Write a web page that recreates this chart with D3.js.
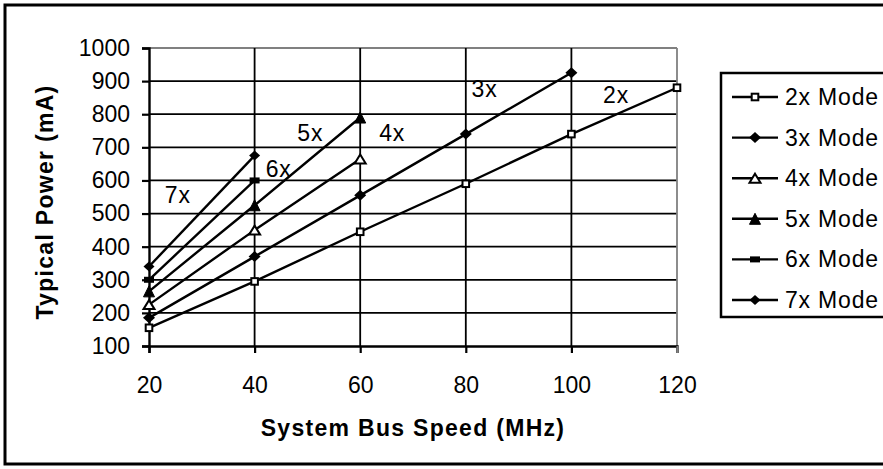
<!DOCTYPE html>
<html>
<head>
<meta charset="utf-8">
<script src="https://cdn.jsdelivr.net/npm/d3@7"></script>
<style>
  body { margin: 0; background: #fff; }
  text { font-family: "Liberation Sans", Arial, sans-serif; fill: #000; }
</style>
</head>
<body>
<svg id="chart" width="883" height="469"></svg>
<script>
// bus speeds (MHz) and typical power (mA) per multiplier mode
const busSpeeds = [20, 40, 60, 80, 100, 120];
const mode2x = [155, 295, 445, 590, 740, 880];
const mode3x = [185, 370, 555, 740, 925];
const mode4x = [225, 450, 665];
const mode5x = [265, 525, 790];
const mode6x = [300, 600];
const mode7x = [340, 675];

const seriesNames = ["2x Mode", "3x Mode", "4x Mode", "5x Mode", "6x Mode", "7x Mode"];
const seriesValues = [mode2x, mode3x, mode4x, mode5x, mode6x, mode7x];
const markerKinds = ["squareOpen", "diamond", "triangleOpen", "triangle", "bar", "diamondSmall"];

const yTicks = [100, 200, 300, 400, 500, 600, 700, 800, 900, 1000];

// in-chart labels, placed in data units
const labelText = ["7x", "6x", "5x", "4x", "3x", "2x"];
const labelSpeed = [23, 42.1, 48.1, 63.6, 81.1, 106];
const labelPower = [532, 610, 719, 719, 852, 834];

const svg = d3.select("#chart");

const x = d3.scaleLinear().domain([20, 120]).range([149, 677]);
const y = d3.scaleLinear().domain([100, 1000]).range([346, 48]);

// outer frame (right edge runs off the page like the original)
svg.append("rect")
  .attr("x", 5).attr("y", 5)
  .attr("width", 900).attr("height", 459)
  .attr("fill", "#fff")
  .attr("stroke", "#000")
  .attr("stroke-width", 3);

const plot = svg.append("g");

// horizontal gridlines
plot.selectAll("line.hgrid")
  .data(yTicks.slice(1))
  .enter()
  .append("line")
  .attr("class", "hgrid")
  .attr("x1", x(20)).attr("x2", x(120))
  .attr("y1", function (d) { return y(d); })
  .attr("y2", function (d) { return y(d); })
  .attr("stroke", function (d) { return d === 1000 ? "#808080" : "#000"; })
  .attr("stroke-width", 1.8);

// vertical gridlines
plot.selectAll("line.vgrid")
  .data(busSpeeds.slice(1))
  .enter()
  .append("line")
  .attr("class", "vgrid")
  .attr("y1", y(1000)).attr("y2", y(100))
  .attr("x1", function (d) { return x(d); })
  .attr("x2", function (d) { return x(d); })
  .attr("stroke", function (d) { return d === 120 ? "#808080" : "#000"; })
  .attr("stroke-width", 1.8);

// axes
const xAxis = d3.axisBottom(x).tickValues(busSpeeds).tickSize(7).tickPadding(24)
  .tickFormat(d3.format("d"));
const yAxis = d3.axisLeft(y).tickValues(yTicks).tickSize(7).tickPadding(12)
  .tickFormat(d3.format("d"));

const gx = svg.append("g")
  .attr("transform", "translate(0," + y(100) + ")")
  .call(xAxis);
const gy = svg.append("g")
  .attr("transform", "translate(" + x(20) + ",0)")
  .call(yAxis);

[gx, gy].forEach(function (g) {
  g.select(".domain").attr("stroke", "#000").attr("stroke-width", 2.4);
  g.selectAll(".tick line").attr("stroke", "#000").attr("stroke-width", 2.2);
  g.selectAll(".tick text")
    .style("font-size", "23px")
    .style("font-family", "'Liberation Sans', Arial, sans-serif")
    .attr("fill", "#000");
});
gx.selectAll(".tick line").filter(function (d) { return d === 120; }).attr("stroke", "#808080");

// series lines and markers
const line = d3.line()
  .x(function (d, i) { return x(busSpeeds[i]); })
  .y(function (d) { return y(d); });

const seriesG = svg.append("g");

seriesValues.forEach(function (vals, s) {
  seriesG.append("path")
    .datum(vals)
    .attr("d", line)
    .attr("fill", "none")
    .attr("stroke", "#000")
    .attr("stroke-width", 2.4);
});

function drawMarker(g, kind, cx, cy) {
  if (kind === "squareOpen") {
    g.append("rect").attr("x", cx - 3.3).attr("y", cy - 3.3)
      .attr("width", 6.6).attr("height", 6.6)
      .attr("fill", "#fff").attr("stroke", "#000").attr("stroke-width", 2);
  } else if (kind === "diamond" || kind === "diamondSmall") {
    const rx = kind === "diamond" ? 6 : 5.5;
    const ry = kind === "diamond" ? 5.5 : 5;
    g.append("path")
      .attr("d", "M" + cx + "," + (cy - ry) + "L" + (cx + rx) + "," + cy +
        "L" + cx + "," + (cy + ry) + "L" + (cx - rx) + "," + cy + "Z")
      .attr("fill", "#000");
  } else if (kind === "triangle" || kind === "triangleOpen") {
    const h = kind === "triangle" ? 5.5 : 4.5;
    g.append("path")
      .attr("d", "M" + cx + "," + (cy - h) + "L" + (cx + 5.5) + "," + (cy + h) +
        "L" + (cx - 5.5) + "," + (cy + h) + "Z")
      .attr("fill", kind === "triangle" ? "#000" : "#fff")
      .attr("stroke", "#000")
      .attr("stroke-width", kind === "triangle" ? 1 : 2);
  } else if (kind === "bar") {
    g.append("rect").attr("x", cx - 5).attr("y", cy - 3)
      .attr("width", 10).attr("height", 6).attr("fill", "#000");
  }
}

seriesValues.forEach(function (vals, s) {
  vals.forEach(function (v, i) {
    drawMarker(seriesG, markerKinds[s], x(busSpeeds[i]), y(v));
  });
});

// in-chart mode labels
svg.selectAll("text.modeLabel")
  .data(labelText)
  .enter()
  .append("text")
  .attr("class", "modeLabel")
  .attr("x", function (d, i) { return x(labelSpeed[i]); })
  .attr("y", function (d, i) { return y(labelPower[i]); })
  .style("font-size", "23px")
  .style("letter-spacing", "0.8px")
  .text(function (d) { return d; });

// axis titles
svg.append("text")
  .attr("x", 413).attr("y", 436)
  .attr("text-anchor", "middle")
  .style("font-size", "23px")
  .style("font-weight", "bold")
  .style("letter-spacing", "1.3px")
  .text("System Bus Speed (MHz)");

svg.append("text")
  .attr("transform", "translate(53,202) rotate(-90)")
  .attr("text-anchor", "middle")
  .style("font-size", "23px")
  .style("font-weight", "bold")
  .style("letter-spacing", "1.3px")
  .text("Typical Power (mA)");

// legend
const legend = svg.append("g").attr("transform", "translate(721,73)");
legend.append("rect")
  .attr("width", 200).attr("height", 244)
  .attr("fill", "#fff")
  .attr("stroke", "#000")
  .attr("stroke-width", 2.5);

const legendRows = legend.selectAll("g.row")
  .data(seriesNames)
  .enter()
  .append("g")
  .attr("class", "row")
  .attr("transform", function (d, i) { return "translate(0," + (24 + i * 40.6) + ")"; });

legendRows.append("line")
  .attr("x1", 11).attr("x2", 57)
  .attr("stroke", "#000").attr("stroke-width", 2.4);

legendRows.each(function (d, i) {
  drawMarker(d3.select(this), markerKinds[i], 34, 0);
});

legendRows.append("text")
  .attr("x", 64).attr("y", 8)
  .style("font-size", "23px")
  .style("letter-spacing", "0.8px")
  .text(function (d) { return d; });
</script>
</body>
</html>
